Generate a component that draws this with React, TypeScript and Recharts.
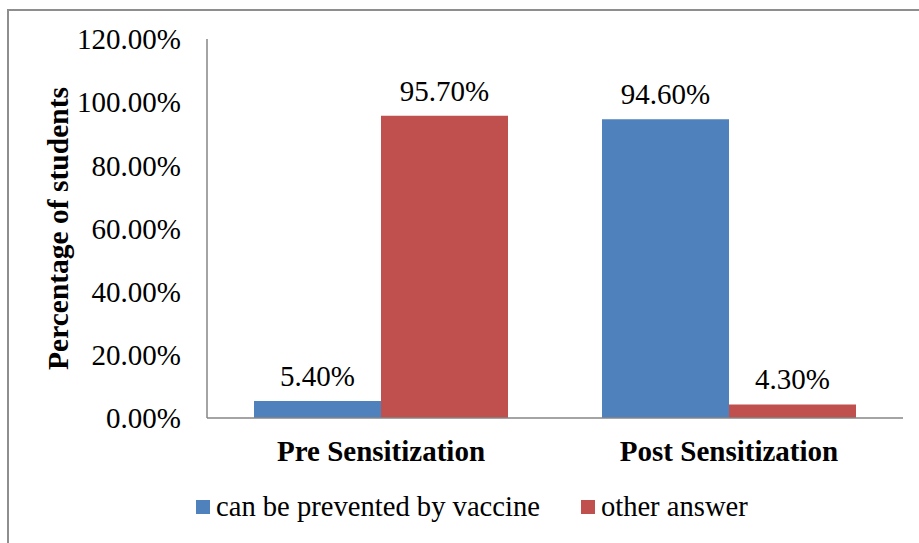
import React from "react";
import { BarChart, Bar, XAxis, YAxis, LabelList, Legend } from "recharts";

const categories = ["Pre Sensitization", "Post Sensitization"];
const preventedByVaccine = [5.4, 94.6];
const otherAnswer = [95.7, 4.3];
const yTicks = [0, 20, 40, 60, 80, 100, 120];
const seriesNames = ["can be prevented by vaccine", "other answer"];

const data = categories.map((c, i) => ({
  name: c,
  vaccine: preventedByVaccine[i],
  other: otherAnswer[i],
}));

const FONT = "'Liberation Serif', 'Times New Roman', serif";
const fmt = (v: number) => `${Number(v).toFixed(2)}%`;

const renderLegend = (props: any) => {
  const payload = props.payload || [];
  return (
    <div
      style={{
        display: "flex",
        alignItems: "center",
        fontFamily: FONT,
        fontSize: 28.6,
        lineHeight: "32px",
        color: "#000",
        whiteSpace: "nowrap",
      }}
    >
      {payload.map((entry: any, i: number) => (
        <div
          key={i}
          style={{ display: "flex", alignItems: "center", marginRight: 41 }}
        >
          <span
            style={{
              display: "inline-block",
              width: 14,
              height: 14,
              background: entry.color,
              marginRight: 6,
            }}
          />
          <span>{entry.value}</span>
        </div>
      ))}
    </div>
  );
};

export default function App() {
  return (
    <div
      style={{
        position: "fixed",
        left: 0,
        top: 0,
        width: 919,
        height: 543,
        background: "#fff",
        overflow: "hidden",
      }}
    >
      <div
        style={{
          position: "absolute",
          left: 7,
          top: 9,
          width: 912,
          height: 534,
          boxSizing: "border-box",
          borderTop: "2px solid #8e8e8e",
          borderLeft: "2px solid #8e8e8e",
        }}
      />
      <div style={{ position: "absolute", left: 0, top: 0 }}>
        <BarChart
          width={919}
          height={543}
          data={data}
          margin={{ top: 39, right: 16, bottom: 0, left: 0 }}
          barCategoryGap={47}
          barGap={0}
        >
          <XAxis
            dataKey="name"
            height={125}
            axisLine={{ stroke: "#868686", strokeWidth: 1.5 }}
            tickLine={false}
            tickSize={0}
            tickMargin={22}
            tick={{
              fill: "#000",
              fontFamily: FONT,
              fontSize: 29,
              fontWeight: "bold",
            }}
          />
          <YAxis
            width={207}
            domain={[0, 120]}
            ticks={yTicks}
            interval={0}
            tickFormatter={fmt}
            axisLine={{ stroke: "#868686", strokeWidth: 1.5 }}
            tickLine={false}
            tickSize={0}
            tickMargin={26}
            tick={{ fill: "#000", fontFamily: FONT, fontSize: 29 }}
            label={{
              value: "Percentage of students",
              angle: -90,
              position: "center",
              dx: -46,
              style: {
                fontFamily: FONT,
                fontSize: 29.5,
                fontWeight: "bold",
                fill: "#000",
              },
            }}
          />
          <Legend
            layout="horizontal"
            verticalAlign="middle"
            align="center"
            content={renderLegend}
            wrapperStyle={{ left: 196, top: 491, width: 700, height: 32 }}
          />
          <Bar
            dataKey="vaccine"
            name={seriesNames[0]}
            fill="#4F81BD"
            isAnimationActive={false}
          >
            <LabelList
              dataKey="vaccine"
              position="top"
              offset={15}
              formatter={(v: any) => fmt(v)}
              style={{ fontFamily: FONT, fontSize: 29, fill: "#000" }}
            />
          </Bar>
          <Bar
            dataKey="other"
            name={seriesNames[1]}
            fill="#C0504D"
            isAnimationActive={false}
          >
            <LabelList
              dataKey="other"
              position="top"
              offset={15}
              formatter={(v: any) => fmt(v)}
              style={{ fontFamily: FONT, fontSize: 29, fill: "#000" }}
            />
          </Bar>
        </BarChart>
      </div>
    </div>
  );
}
